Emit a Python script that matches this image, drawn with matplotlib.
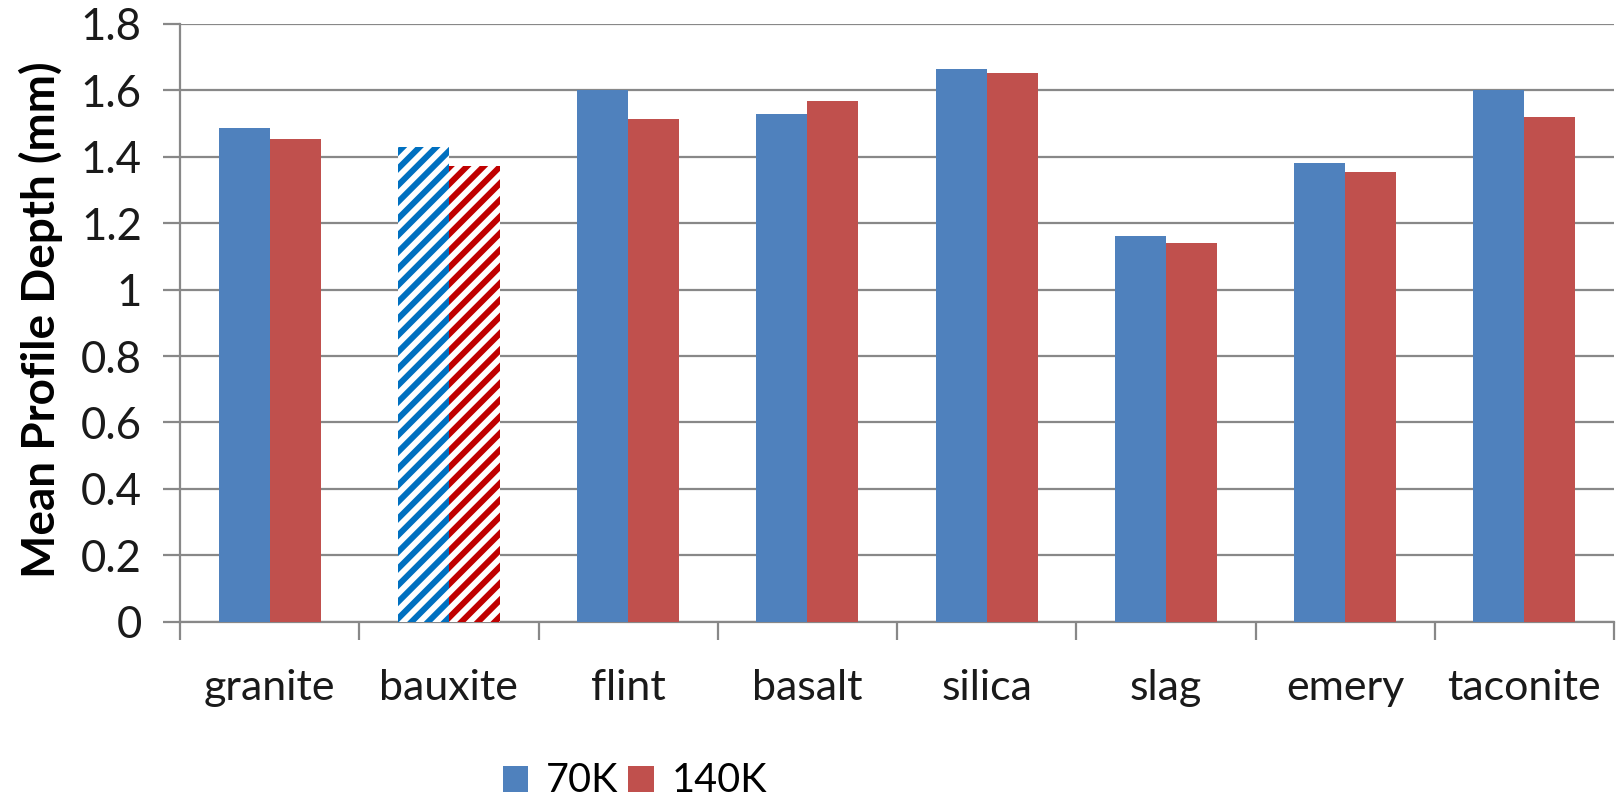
import matplotlib
matplotlib.use("Agg")
import matplotlib.pyplot as plt
import numpy as np
from matplotlib.patches import Patch
from matplotlib.ticker import FixedLocator, FuncFormatter

categories = ["granite", "bauxite", "flint", "basalt", "silica", "slag", "emery", "taconite"]
series_names = ["70K", "140K"]
depth_70k = [1.487, 1.431, 1.600, 1.529, 1.665, 1.162, 1.382, 1.600]
depth_140k = [1.453, 1.371, 1.514, 1.569, 1.652, 1.141, 1.354, 1.521]
y_ticks = [0, 0.2, 0.4, 0.6, 0.8, 1.0, 1.2, 1.4, 1.6, 1.8]
hatched_category = "bauxite"

solid_colors = ["#4F81BD", "#C0504D"]
hatch_colors = ["#0070C0", "#C00000"]

plt.rcParams["font.family"] = ["Lato", "DejaVu Sans"]
plt.rcParams["hatch.linewidth"] = 4.3

fig = plt.figure(figsize=(16.19, 8.01), dpi=100)
ax = fig.add_axes([180 / 1619, 1 - 621.7 / 801, (1614 - 180) / 1619, (621.7 - 24) / 801])

x = np.arange(len(categories))
width = 0.285
for i, (vals, name) in enumerate(zip([depth_70k, depth_140k], series_names)):
    offs = (i - 0.5) * width
    for j, v in enumerate(vals):
        if categories[j] == hatched_category:
            bars = ax.bar(x[j] + offs, v, width, facecolor="white", edgecolor=hatch_colors[i],
                          hatch="//", linewidth=0, zorder=3)
            for b in bars:
                if hasattr(b, "set_hatch_linewidth"):
                    b.set_hatch_linewidth(4.3)
        else:
            ax.bar(x[j] + offs, v, width, color=solid_colors[i], linewidth=0, zorder=3)

ax.set_xlim(-0.5, len(categories) - 0.5)
ax.set_ylim(0, 1.8)

grid_color = "#888888"
ax.yaxis.set_major_locator(FixedLocator(y_ticks))
ax.yaxis.set_major_formatter(FuncFormatter(lambda v, p: f"{v:g}"))
ax.grid(axis="y", color=grid_color, linewidth=1.6, zorder=0)
ax.set_axisbelow(True)

ax.set_xticks(x)
ax.set_xticklabels(categories)
ax.set_xticks(np.arange(len(categories) + 1) - 0.5, minor=True)
ax.tick_params(axis="x", which="major", length=0, pad=34, labelsize=31, colors="#1a1a1a")
ax.tick_params(axis="x", which="minor", length=13, width=1.6, color=grid_color, direction="out")
ax.tick_params(axis="y", which="major", length=12.5, width=1.6, color=grid_color,
               pad=15, labelsize=31.5, labelcolor="#1a1a1a")

for side in ["top", "right"]:
    ax.spines[side].set_visible(False)
for side in ["left", "bottom"]:
    ax.spines[side].set_color(grid_color)
    ax.spines[side].set_linewidth(1.6)

ax.set_ylabel("Mean Profile Depth (mm)", fontsize=33, fontweight="bold", color="black")
ax.yaxis.set_label_coords(-0.0816, 0.505)

handles = [Patch(facecolor=c, edgecolor="none") for c in solid_colors]
fig.legend(handles, series_names, loc="center", bbox_to_anchor=(635 / 1619, 1 - 781 / 801),
           ncol=2, frameon=False, fontsize=28.5, handlelength=0.64, handleheight=0.64,
           handletextpad=0.45, columnspacing=0.25, borderpad=0.2)

fig.savefig("out.png", dpi=100)
